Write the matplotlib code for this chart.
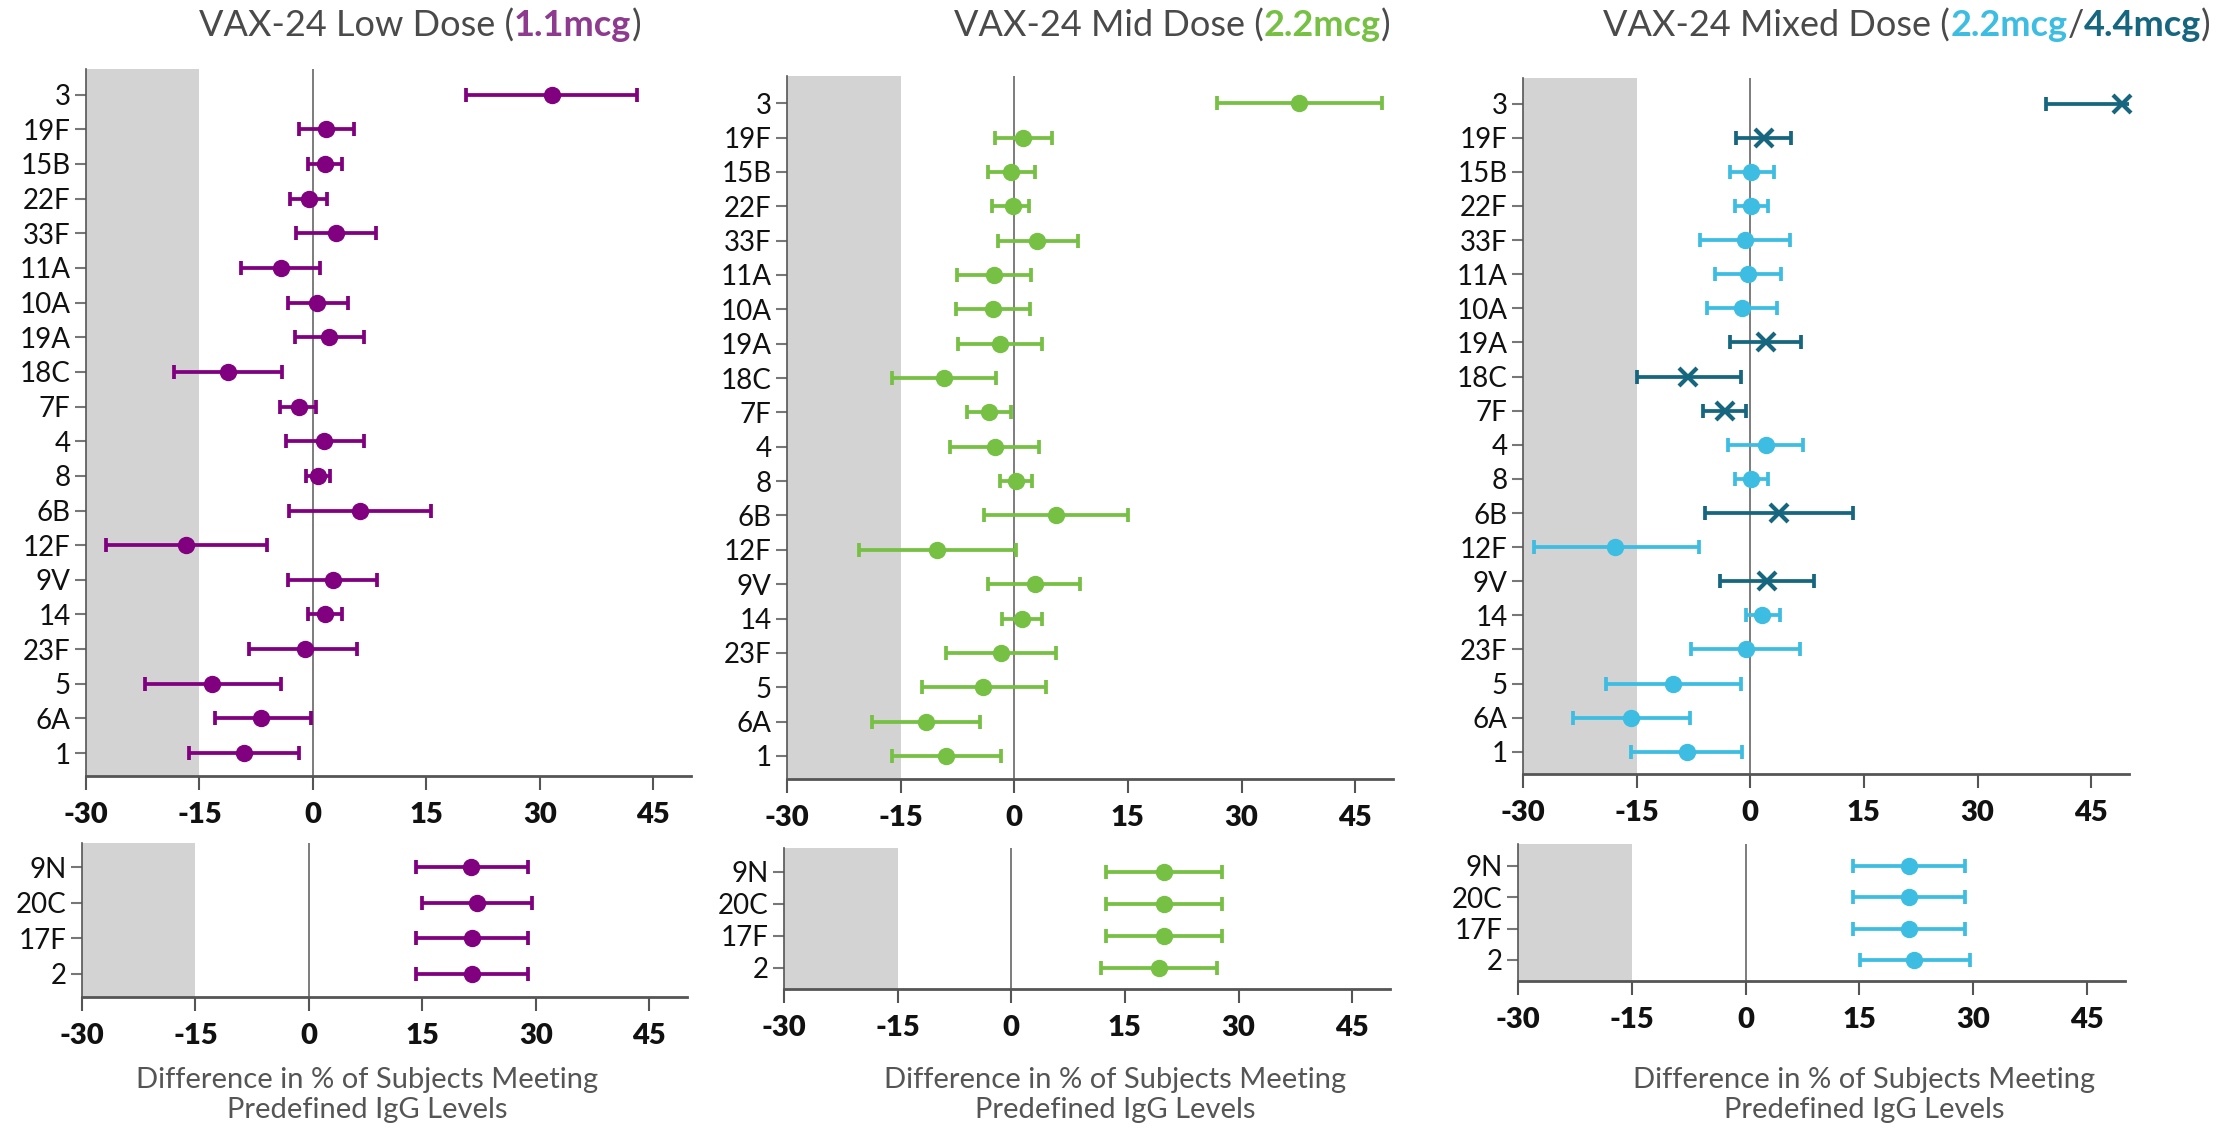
import matplotlib
matplotlib.use("Agg")
import matplotlib.pyplot as plt

# serotypes, top to bottom
top_types = ["3", "19F", "15B", "22F", "33F", "11A", "10A", "19A", "18C", "7F",
             "4", "8", "6B", "12F", "9V", "14", "23F", "5", "6A", "1"]
bottom_types = ["9N", "20C", "17F", "2"]

# Low dose (1.1mcg)
low_est = [31.6, 1.8, 1.6, -0.5, 3.0, -4.2, 0.5, 2.1, -11.2, -1.9,
           1.5, 0.7, 6.2, -16.8, 2.6, 1.6, -1.1, -13.3, -6.8, -9.1]
low_lo = [20.3, -1.8, -0.6, -3.0, -2.2, -9.5, -3.3, -2.4, -18.3, -4.3,
          -3.5, -0.9, -3.2, -27.3, -3.3, -0.6, -8.4, -22.2, -13.0, -16.4]
low_hi = [42.8, 5.5, 3.8, 1.9, 8.3, 1.0, 4.6, 6.8, -4.1, 0.4,
          6.7, 2.3, 15.6, -6.1, 8.5, 3.9, 5.9, -4.2, -0.2, -1.8]
low_b_est = [21.5, 22.2, 21.6, 21.6]
low_b_lo = [14.1, 15.0, 14.2, 14.2]
low_b_hi = [29.0, 29.5, 29.0, 29.0]

# Mid dose (2.2mcg)
mid_est = [37.6, 1.2, -0.4, -0.1, 3.0, -2.7, -2.8, -1.9, -9.3, -3.3,
           -2.5, 0.2, 5.5, -10.2, 2.7, 1.0, -1.8, -4.1, -11.6, -9.0]
mid_lo = [26.8, -2.5, -3.5, -3.0, -2.2, -7.6, -7.7, -7.4, -16.1, -6.2,
          -8.5, -1.9, -4.0, -20.5, -3.4, -1.6, -9.0, -12.2, -18.8, -16.2]
mid_hi = [48.6, 5.0, 2.7, 2.0, 8.4, 2.2, 2.1, 3.6, -2.4, -0.4,
          3.3, 2.3, 15.0, 0.2, 8.7, 3.6, 5.5, 4.2, -4.5, -1.7]
mid_b_est = [20.1, 20.1, 20.1, 19.5]
mid_b_lo = [12.5, 12.5, 12.5, 11.8]
mid_b_hi = [27.8, 27.8, 27.8, 27.2]

# Mixed dose (2.2mcg / 4.4mcg)
mix_est = [49.1, 1.8, 0.1, 0.1, -0.7, -0.3, -1.1, 2.1, -8.2, -3.3,
           2.1, 0.1, 3.8, -17.8, 2.2, 1.6, -0.5, -10.2, -15.8, -8.4]
mix_lo = [39.0, -1.9, -2.7, -2.0, -6.6, -4.7, -5.7, -2.7, -15.0, -6.2,
          -2.9, -2.0, -6.0, -28.5, -4.0, -0.5, -7.8, -19.0, -23.4, -15.8]
mix_hi = [56.0, 5.4, 3.1, 2.3, 5.3, 4.1, 3.5, 6.7, -1.2, -0.5,
          7.0, 2.3, 13.5, -6.8, 8.4, 3.9, 6.6, -1.2, -8.0, -1.1]
mix_high_dose = [True, True, False, False, False, False, False, True, True, True,
                 False, False, True, False, True, False, False, False, False, False]
mix_b_est = [21.5, 21.5, 21.5, 22.2]
mix_b_lo = [14.1, 14.1, 14.1, 15.1]
mix_b_hi = [28.9, 28.9, 28.9, 29.6]

xticks = [-30, -15, 0, 15, 30, 45]

PURPLE = "#800080"
GREEN = "#76C043"
LIGHT = "#3DBDE2"
DARK = "#16667F"
TITLE_GRAY = "#4A4A4A"

W, H = 2237, 1128
plt.rcParams["font.family"] = ["Lato", "DejaVu Sans"]
fig = plt.figure(figsize=(W / 100, H / 100), dpi=100)


def px_axes(left, right, top, bottom):
    return fig.add_axes([left / W, 1 - bottom / H, (right - left) / W, (bottom - top) / H])


def style_axes(ax, labels, ylim):
    n = len(labels)
    ax.set_xlim(-30, 50)
    ax.set_ylim(*ylim)
    ax.axvspan(-30, -15, color="#D3D3D3", zorder=0, lw=0)
    ax.axvline(0, color="#666666", lw=1.2, zorder=1)
    ax.set_yticks(range(n))
    ax.set_yticklabels(labels[::-1])
    ax.set_xticks(xticks)
    ax.set_xticklabels([str(t) for t in xticks], fontweight="heavy")
    for s in ["top", "right"]:
        ax.spines[s].set_visible(False)
    ax.spines["left"].set_color("#555555")
    ax.spines["left"].set_linewidth(1.2)
    ax.spines["bottom"].set_color("#555555")
    ax.spines["bottom"].set_linewidth(2)
    ax.tick_params(axis="y", length=8, width=1.5, color="#777777", labelsize=20, pad=3,
                   labelcolor="#111111")
    ax.tick_params(axis="x", length=10, width=1.5, color="#555555", labelsize=21, pad=9,
                   labelcolor="#111111")


def draw_series(ax, est, lo, hi, color, markers=None):
    n = len(est)
    ys = list(range(n))[::-1]
    for i in range(n):
        c = color[i] if isinstance(color, list) else color
        ax.errorbar(est[i], ys[i], xerr=[[est[i] - lo[i]], [hi[i] - est[i]]],
                    fmt="none", ecolor=c, elinewidth=2.7, capsize=5, capthick=2.7, zorder=3)
        m = markers[i] if markers else "o"
        if m == "o":
            ax.plot(est[i], ys[i], "o", color=c, ms=11.5, zorder=4, clip_on=False)
        else:
            ax.plot(est[i], ys[i], "x", color=c, ms=13, mew=3, zorder=4, clip_on=False)


def draw_title(cx, cy, parts):
    renderer = fig.canvas.get_renderer()
    texts = [fig.text(0, 1 - cy / H, s, color=c, fontweight=w, fontsize=26,
                      va="center", ha="left") for s, c, w in parts]
    widths = [t.get_window_extent(renderer).width for t in texts]
    x = cx - sum(widths) / 2
    for t, w in zip(texts, widths):
        t.set_x(x / W)
        x += w


# panel layout in pixels: (top axes), (bottom axes), title centre, xlabel centre
layouts = [
    ((86, 691, 69, 776), (82, 687, 843, 997), 420, 367),
    ((787, 1393, 76, 779), (784, 1390, 848, 989), 1172, 1115),
    ((1523, 2129, 78, 774), (1518, 2125, 844, 981), 1907, 1864),
]

# Low dose
(lt, lb, tcx, xcx) = layouts[0]
ax = px_axes(*lt)
style_axes(ax, top_types, (-0.66, 19.74))
draw_series(ax, low_est, low_lo, low_hi, PURPLE)
ax = px_axes(*lb)
style_axes(ax, bottom_types, (-0.66, 3.68))
draw_series(ax, low_b_est, low_b_lo, low_b_hi, PURPLE)
draw_title(tcx, 26, [("VAX-24 Low Dose (", TITLE_GRAY, "normal"),
                     ("1.1mcg", "#8E3A8E", "bold"),
                     (")", TITLE_GRAY, "normal")])

# Mid dose
(lt, lb, tcx, xcx) = layouts[1]
ax = px_axes(*lt)
style_axes(ax, top_types, (-0.67, 19.79))
draw_series(ax, mid_est, mid_lo, mid_hi, GREEN)
ax = px_axes(*lb)
style_axes(ax, bottom_types, (-0.66, 3.75))
draw_series(ax, mid_b_est, mid_b_lo, mid_b_hi, GREEN)
draw_title(tcx, 26, [("VAX-24 Mid Dose (", TITLE_GRAY, "normal"),
                     ("2.2mcg", GREEN, "bold"),
                     (")", TITLE_GRAY, "normal")])

# Mixed dose
(lt, lb, tcx, xcx) = layouts[2]
ax = px_axes(*lt)
style_axes(ax, top_types, (-0.65, 19.75))
mix_colors = [DARK if h else LIGHT for h in mix_high_dose]
mix_markers = ["x" if h else "o" for h in mix_high_dose]
draw_series(ax, mix_est, mix_lo, mix_hi, mix_colors, mix_markers)
ax = px_axes(*lb)
style_axes(ax, bottom_types, (-0.67, 3.7))
draw_series(ax, mix_b_est, mix_b_lo, mix_b_hi, LIGHT)
draw_title(tcx, 26, [("VAX-24 Mixed Dose (", TITLE_GRAY, "normal"),
                     ("2.2mcg", LIGHT, "bold"),
                     ("/", TITLE_GRAY, "normal"),
                     ("4.4mcg", DARK, "bold"),
                     (")", TITLE_GRAY, "normal")])

for (_, _, _, xcx) in layouts:
    fig.text(xcx / W, 1 - 1095 / H,
             "Difference in % of Subjects Meeting\nPredefined IgG Levels",
             ha="center", va="center", fontsize=21, color="#555555", linespacing=1.2)

fig.savefig("out.png", dpi=100)
